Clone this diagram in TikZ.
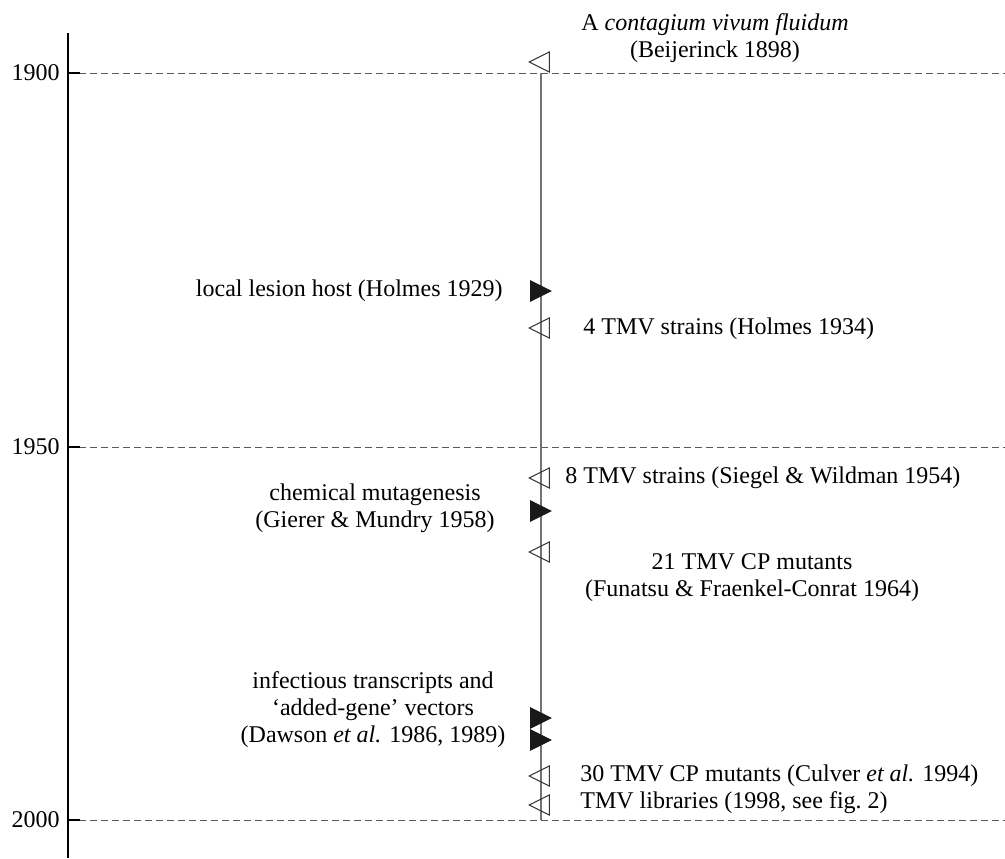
\documentclass[tikz,border=0pt]{standalone}
\usepackage{fontspec}
\setmainfont{Liberation Serif}[ItalicFont={Liberation Serif Italic}]
\usetikzlibrary{positioning, shapes.geometric}

\begin{document}
\begin{tikzpicture}[x=0.5pt, y=-0.5pt,
					txt/.style={font=\fontsize{12}{13.5}\selectfont, inner sep=0pt, align=center},
					gridline/.style={black!65, line width=0.5pt, dash pattern=on 3.5pt off 2pt},
					basemark/.style={isosceles triangle, isosceles triangle stretches, minimum width=10pt,
					minimum height=10pt, inner sep=0pt, line width=0.5pt, anchor=apex},
					openmark/.style={basemark, draw=black!80, shape border rotate=180},
					fullmark/.style={basemark, draw=black!90, fill=black!90} ]
					\useasboundingbox (0,0) rectangle (1005,858);
					
					%Eixo e anos:
					\coordinate (axtop) at (68,33);
					\coordinate (axbot) at (68,858);
					\draw[line width=0.6pt] (axtop) -- (axbot);
					\foreach \yr/\y in {1900/73, 1950/447, 2000/820}{
						\coordinate (a\yr) at (68,\y);
						\coordinate (t\yr) at (80,\y);
						\coordinate (e\yr) at (1005,\y);
						\node[txt, left=4pt of a\yr] (y\yr) {\yr};
						\draw[gridline] (a\yr) -- (e\yr);
						\draw[line width=0.6pt] (a\yr) -- (t\yr);
					}
					
					%Linha do tempo:
					\coordinate (tltop) at (541,73);
					\coordinate (tlbot) at (541,820);
					\draw[black!55, line width=0.6pt] (tltop) -- (tlbot);
					
					%Marcas:
					\node[openmark] (m1898) at (528,62)  {};
					\node[fullmark] (m1929) at (552,291) {};
					\node[openmark] (m1934) at (528,328) {};
					\node[openmark] (m1954) at (528,478) {};
					\node[fullmark] (m1958) at (552,511) {};
					\node[openmark] (m1964) at (528,552) {};
					\node[fullmark] (m1986) at (552,718) {};
					\node[fullmark] (m1989) at (552,740) {};
					\node[openmark] (m1994) at (528,776) {};
					\node[openmark] (m1998) at (528,805) {};
					
					%Textos:
					\node[txt]              (l1898) at (715,38)  {A \textit{contagium vivum fluidum}\\(Beijerinck 1898)};
					\node[txt, anchor=east] (l1929) at (503,291) {local lesion host (Holmes 1929)};
					\node[txt, anchor=west] (l1934) at (583,329) {4 TMV strains (Holmes 1934)};
					\node[txt, anchor=west] (l1954) at (565,478) {8 TMV strains (Siegel \& Wildman 1954)};
					\node[txt]              (l1958) at (375,508) {chemical mutagenesis\\(Gierer \& Mundry 1958)};
					\node[txt]              (l1964) at (752,578) {21 TMV CP mutants\\(Funatsu \& Fraenkel-Conrat 1964)};
					\node[txt]              (l1986) at (373,710) {infectious transcripts and\\`added-gene' vectors\\(Dawson \textit{et al.} 1986, 1989)};
					\node[txt, anchor=west] (l1994) at (580,776) {30 TMV CP mutants (Culver \textit{et al.} 1994)};
					\node[txt, anchor=west] (l1998) at (580,803) {TMV libraries (1998, see fig.~2)};
				\end{tikzpicture}
\end{document}
